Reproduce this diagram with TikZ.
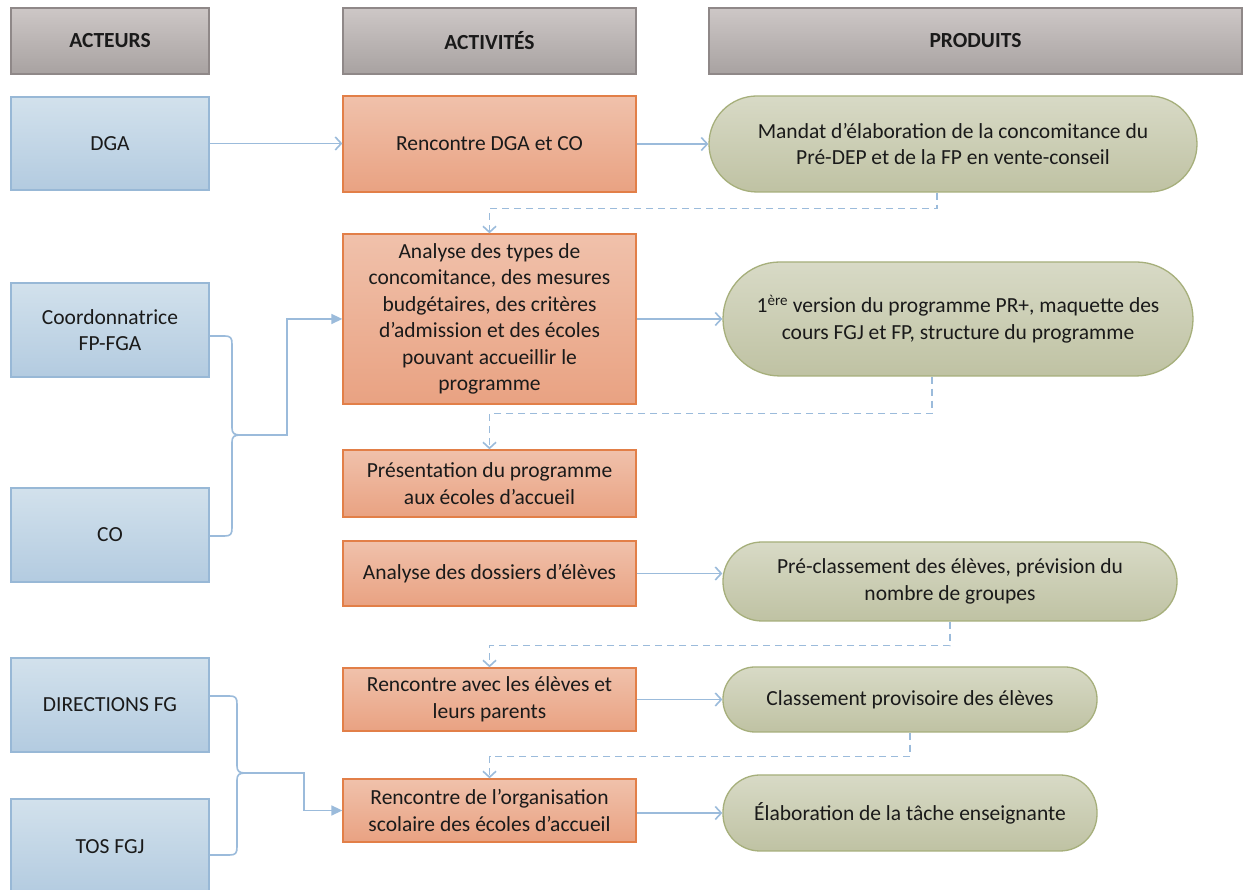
\documentclass[tikz,border=0pt]{standalone}
\usepackage{fontspec}
\setmainfont{Carlito}
\usetikzlibrary{arrows.meta,calc}
\definecolor{hdtop}{HTML}{CDC7C6}
\definecolor{hdbot}{HTML}{A8A2A1}
\definecolor{hdline}{HTML}{8F8888}
\definecolor{bltop}{HTML}{D2E1EC}
\definecolor{blbot}{HTML}{B3CBE0}
\definecolor{blline}{HTML}{98B8D6}
\definecolor{ortop}{HTML}{F0C1AB}
\definecolor{orbot}{HTML}{E9A282}
\definecolor{orline}{HTML}{E27F48}
\definecolor{grtop}{HTML}{D8DAC6}
\definecolor{grbot}{HTML}{BFC2A3}
\definecolor{grline}{HTML}{A6AF7B}
\definecolor{conn}{HTML}{9BBBDB}
\definecolor{txt}{HTML}{1A1A1A}
\tikzset{
  base/.style={align=center, text=txt, inner sep=2pt, line width=1.3pt,
    font=\fontsize{21.5}{26.5}\selectfont},
  hdbox/.style={base, draw=hdline, top color=hdtop, bottom color=hdbot,
    font=\fontsize{21.5}{26.5}\selectfont\bfseries},
  actbox/.style={base, draw=blline, top color=bltop, bottom color=blbot},
  tkbox/.style={base, draw=orline, top color=ortop, bottom color=orbot},
  prodbox/.style={base, draw=grline, top color=grtop, bottom color=grbot},
  link/.style={draw=conn, line width=1.6pt, -{Straight Barb[length=6pt,width=13pt]}},
  dlink/.style={draw=conn, line width=1.6pt, dash pattern=on 7pt off 5pt,
    -{Straight Barb[length=6pt,width=13pt]}},
  blink/.style={draw=conn, line width=1.6pt, -{Triangle[length=11pt,width=10pt]}},
  bline/.style={draw=conn, line width=1.6pt},
}
\begin{document}
\begin{tikzpicture}[x=1pt,y=1pt]
\useasboundingbox (0,0) rectangle (1243,890);
\fill[white] (0,0) rectangle (1243,890);
% headers
\node[hdbox, minimum width=198, minimum height=66] (h1) at (110,849) {ACTEURS};
\node[hdbox, minimum width=293, minimum height=66] (h2) at (489.5,849) {ACTIVITÉS};
\node[hdbox, minimum width=533, minimum height=66] (h3) at (975.5,849) {PRODUITS};
% actors
\node[actbox, minimum width=198, minimum height=93] (dga) at (110,746.5) {DGA};
\node[actbox, minimum width=198, minimum height=94] (coord) at (110,560) {Coordonnatrice\\FP-FGA};
\node[actbox, minimum width=198, minimum height=94] (co) at (110,355) {CO};
\node[actbox, minimum width=198, minimum height=94] (dir) at (110,185) {DIRECTIONS FG};
\node[actbox, minimum width=198, minimum height=96] (tos) at (110,43) {TOS FGJ};
% activities
\node[tkbox, minimum width=293, minimum height=96] (r1) at (489.5,746) {Rencontre DGA et CO};
\node[tkbox, minimum width=293, minimum height=170] (an) at (489.5,571) {Analyse des types de\\concomitance, des mesures\\budgétaires, des critères\\d’admission et des écoles\\pouvant accueillir le\\programme};
\node[tkbox, minimum width=293, minimum height=67] (pr) at (489.5,406.5) {Présentation du programme\\aux écoles d’accueil};
\node[tkbox, minimum width=293, minimum height=65] (ad) at (489.5,316.5) {Analyse des dossiers d’élèves};
\node[tkbox, minimum width=293, minimum height=63] (re) at (489.5,190.5) {Rencontre avec les élèves et\\leurs parents};
\node[tkbox, minimum width=293, minimum height=63] (ro) at (489.5,79.5) {Rencontre de l’organisation\\scolaire des écoles d’accueil};
% products
\node[prodbox, rounded corners=48pt, minimum width=488, minimum height=96] (m) at (953,746) {Mandat d’élaboration de la concomitance du\\Pré-DEP et de la FP en vente-conseil};
\node[prodbox, rounded corners=57pt, minimum width=470, minimum height=114] (v) at (958,571) {1\textsuperscript{ère} version du programme PR+, maquette des\\cours FGJ et FP, structure du programme};
\node[prodbox, rounded corners=39pt, minimum width=454, minimum height=79] (pc) at (950,308.5) {Pré-classement des élèves, prévision du\\nombre de groupes};
\node[prodbox, rounded corners=32pt, minimum width=374, minimum height=65] (cp) at (910,190.5) {Classement provisoire des élèves};
\node[prodbox, rounded corners=37pt, minimum width=374, minimum height=76] (el) at (910,77) {Élaboration de la tâche enseignante};
% solid arrows
\draw[link] (dga.east) -- (dga.east -| r1.west);
\draw[link] (r1.east) -- (m.west);
\draw[link] (an.east |- v.west) -- (v.west);
\draw[link] (ad.east) -- (ad.east -| pc.west);
\draw[link] (re.east) -- (re.east -| cp.west);
\draw[link] (ro.east |- el.west) -- (el.west);
% dashed elbows
\draw[dlink] ($(m.south)+(-16,0)$) -- ++(0,-16) -| (an.north);
\draw[dlink] ($(v.south)+(-26,0)$) -- ++(0,-37) -| (pr.north);
\draw[dlink] (pc.south) -- ++(0,-24) -| (re.north);
\draw[dlink] (cp.south) -- ++(0,-24) -| (ro.north);
% upper bracket
\coordinate (b1) at (240,455);
\draw[bline] ($(coord.east)+(0,-6)$) -- ++(15,0) .. controls +(6,0) and (232,552) .. (232,546) -- (232,462) .. controls (232,457) and (234,455) .. (b1);
\draw[bline] ($(co.east)+(0,-1)$) -- ++(15,0) .. controls +(6,0) and (232,356) .. (232,362) -- (232,448) .. controls (232,453) and (234,455) .. (b1);
\draw[blink] (b1) -- (287,455) |- (an.west);
% lower bracket
\coordinate (b2) at (245,117);
\draw[bline] ($(dir.east)+(0,9)$) -- ++(20,0) .. controls +(6,0) and (237,192) .. (237,186) -- (237,124) .. controls (237,119) and (239,117) .. (b2);
\draw[bline] ($(tos.east)+(0,-8)$) -- ++(20,0) .. controls +(6,0) and (237,37) .. (237,43) -- (237,110) .. controls (237,115) and (239,117) .. (b2);
\draw[blink] (b2) -- (304,117) |- (ro.west);
\end{tikzpicture}
\end{document}
